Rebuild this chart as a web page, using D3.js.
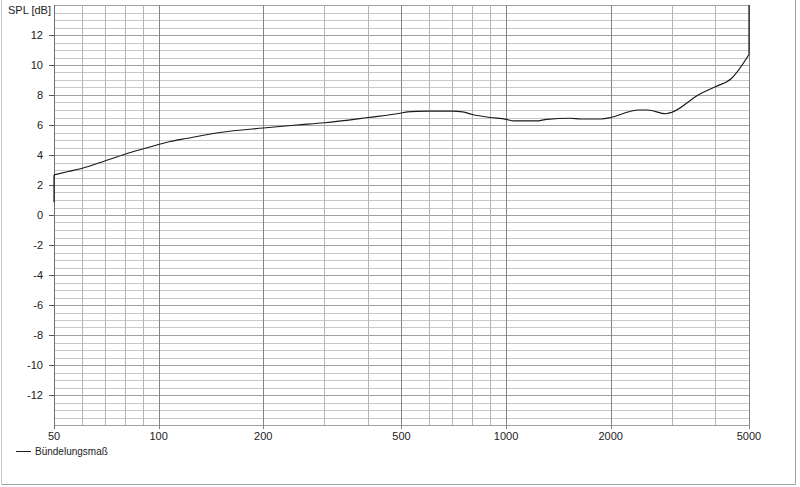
<!DOCTYPE html>
<html><head><meta charset="utf-8">
<script src="https://cdn.jsdelivr.net/npm/d3@7"></script>
<style>body{margin:0;background:#fff;}svg{display:block;font-family:"Liberation Sans",Arial,sans-serif;}</style>
</head><body>
<svg id="c" width="800" height="487"></svg>
<script>
const freqs = [50, 50, 55, 60, 70, 80, 90, 100, 108, 120, 150, 200, 250, 300, 400, 500, 520, 600, 700, 750, 800, 900, 1000, 1050, 1220, 1310, 1530, 1640, 1880, 2000, 2270, 2400, 2550, 2880, 3000, 3600, 4000, 4450, 5000, 5000];
const spl   = [0.85, 2.67, 2.9, 3.1, 3.6, 4.05, 4.4, 4.7, 4.9, 5.1, 5.5, 5.8, 6.0, 6.15, 6.5, 6.8, 6.88, 6.92, 6.93, 6.88, 6.7, 6.5, 6.38, 6.27, 6.27, 6.38, 6.45, 6.4, 6.4, 6.5, 6.9, 7.0, 7.0, 6.75, 6.85, 8.05, 8.55, 9.1, 10.7, 14];
const xTickLabels = [50, 100, 200, 500, 1000, 2000, 5000];
const xGridMinor = [60, 70, 80, 90, 300, 400, 600, 700, 800, 900, 3000, 4000];
const yTickLabels = [12, 10, 8, 6, 4, 2, 0, -2, -4, -6, -8, -10, -12];
const yLabel = "SPL [dB]";
const seriesName = "Bündelungsmaß";

const svg = d3.select("#c");
const L = 54, R = 749, T = 5, B = 425;
const x = d3.scaleLog().domain([50, 5000]).range([L, R]);
const y = d3.scaleLinear().domain([-14, 14]).range([B, T]);

// window frame
svg.append("line").attr("x1", 1.5).attr("x2", 1.5).attr("y1", 0).attr("y2", 484).attr("stroke", "#c8c8c8");
svg.append("line").attr("x1", 795.5).attr("x2", 795.5).attr("y1", 0).attr("y2", 484).attr("stroke", "#a0a0a0");
svg.append("line").attr("x1", 1.5).attr("x2", 795.5).attr("y1", 484.5).attr("y2", 484.5).attr("stroke", "#a0a0a0");

const g = svg.append("g");
const hMinor = d3.range(-14, 14.01, 0.5).filter(v => Math.abs(v % 2) !== 0);
g.selectAll(".hm").data(hMinor).join("line")
  .attr("x1", L).attr("x2", R)
  .attr("y1", d => Math.round(y(d)) + 0.5).attr("y2", d => Math.round(y(d)) + 0.5)
  .attr("stroke", "#c8c8c8");
const hMajor = d3.range(-14, 14.01, 2);
g.selectAll(".hM").data(hMajor).join("line")
  .attr("x1", L).attr("x2", R)
  .attr("y1", d => Math.round(y(d)) + 0.5).attr("y2", d => Math.round(y(d)) + 0.5)
  .attr("stroke", "#a0a0a0");
g.selectAll(".vm").data(xGridMinor).join("line")
  .attr("y1", T).attr("y2", B)
  .attr("x1", d => Math.round(x(d)) + 0.5).attr("x2", d => Math.round(x(d)) + 0.5)
  .attr("stroke", "#b4b4b4");
g.selectAll(".vM").data(xTickLabels).join("line")
  .attr("y1", T).attr("y2", B + 4)
  .attr("x1", d => Math.round(x(d)) + 0.5).attr("x2", d => Math.round(x(d)) + 0.5)
  .attr("stroke", d => d === 50 ? "#707070" : "#858585");

const yt = svg.append("g");
yt.selectAll("line").data(yTickLabels).join("line")
  .attr("x1", L - 5).attr("x2", L)
  .attr("y1", d => Math.round(y(d)) + 0.5).attr("y2", d => Math.round(y(d)) + 0.5)
  .attr("stroke", "#555");
yt.selectAll("text").data(yTickLabels).join("text")
  .attr("x", 43).attr("y", d => y(d) + 4)
  .attr("text-anchor", "end").attr("font-size", 11).attr("fill", "#222")
  .text(d => d);
svg.append("text").attr("x", 8).attr("y", 14).attr("font-size", 11).attr("fill", "#222").text(yLabel);

svg.append("g").selectAll("text").data(xTickLabels).join("text")
  .attr("x", d => x(d)).attr("y", 440)
  .attr("text-anchor", "middle").attr("font-size", 11).attr("fill", "#222")
  .text(d => d);

// curve: smooth body + straight end segments
const pts = freqs.map((f, i) => [f, spl[i]]);
const body = pts.slice(1, pts.length - 1);
const smooth = d3.line().x(d => x(d[0])).y(d => y(d[1])).curve(d3.curveMonotoneX);
const straight = d3.line().x(d => x(d[0])).y(d => y(d[1]));
const curveStyle = sel => sel.attr("fill", "none").attr("stroke", "#1a1a1a").attr("stroke-width", 1.2).attr("stroke-linejoin", "round");
svg.append("path").datum(body).attr("d", smooth).call(curveStyle);
svg.append("path").datum(pts.slice(0, 2)).attr("d", straight).call(curveStyle);
svg.append("path").datum(pts.slice(pts.length - 2)).attr("d", straight).call(curveStyle);

svg.append("line").attr("x1", 16).attr("x2", 31).attr("y1", 451.5).attr("y2", 451.5).attr("stroke", "#1a1a1a");
svg.append("text").attr("x", 35).attr("y", 455).attr("font-size", 10).attr("fill", "#222").text(seriesName);
</script>
</body></html>
